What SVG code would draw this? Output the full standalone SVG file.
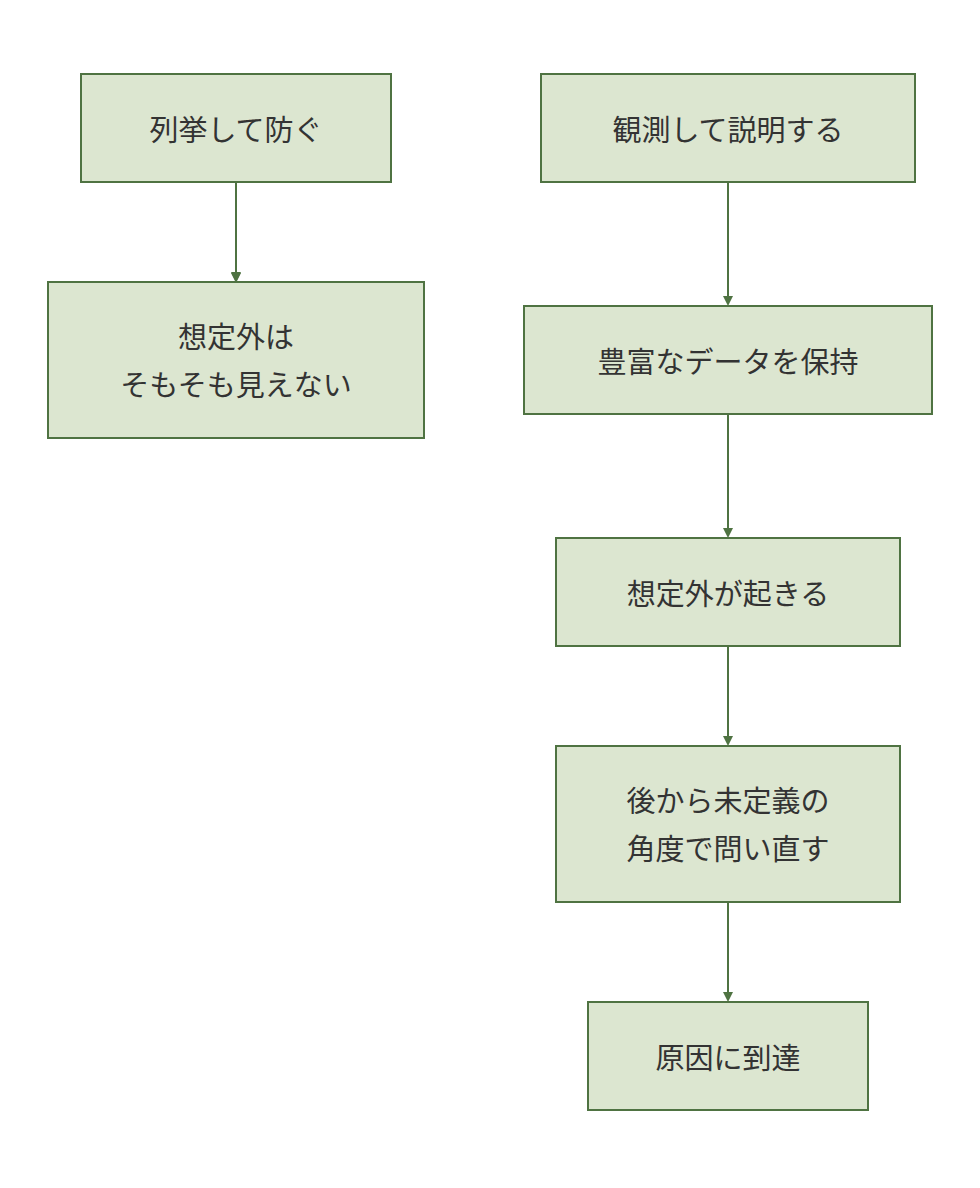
<svg xmlns="http://www.w3.org/2000/svg" width="980" height="1188" viewBox="0 0 980 1188">
<style>
.n{fill:#dce6d0;stroke:#4f7342;stroke-width:2}
.t{font-family:"Noto Sans CJK JP",sans-serif;font-size:29px;fill:#333;text-anchor:middle;dominant-baseline:central}
.e{stroke:#4f7342;stroke-width:2;fill:none}
</style>
<defs><marker id="a" markerWidth="10" markerHeight="10" refX="8" refY="5" orient="auto" markerUnits="userSpaceOnUse" viewBox="0 0 10 10"><path d="M0,0L10,5L0,10z" fill="#4f7342"/></marker></defs>
<rect width="980" height="1188" fill="#fff"/>
<g id="edges">
<line class="e" x1="236" y1="182" x2="236" y2="281" marker-end="url(#a)" transform=""/>
<path class="e" d="M236,182V280" marker-end="url(#a)"/>
<path class="e" d="M728,182V304" marker-end="url(#a)"/>
<path class="e" d="M728,414V536" marker-end="url(#a)"/>
<path class="e" d="M728,646V744" marker-end="url(#a)"/>
<path class="e" d="M728,902V1000" marker-end="url(#a)"/>
</g>
<g id="n1"><rect class="n" x="81" y="74" width="310" height="108"/><text class="t" x="236" y="128">列挙して防ぐ</text></g>
<g id="n2"><rect class="n" x="48" y="282" width="376" height="156"/><text class="t" x="236" y="335">想定外は</text><text class="t" x="236" y="383">そもそも見えない</text></g>
<g id="n3"><rect class="n" x="541" y="74" width="374" height="108"/><text class="t" x="728" y="128">観測して説明する</text></g>
<g id="n4"><rect class="n" x="524" y="306" width="408" height="108"/><text class="t" x="728" y="360">豊富なデータを保持</text></g>
<g id="n5"><rect class="n" x="556" y="538" width="344" height="108"/><text class="t" x="728" y="592">想定外が起きる</text></g>
<g id="n6"><rect class="n" x="556" y="746" width="344" height="156"/><text class="t" x="728" y="799">後から未定義の</text><text class="t" x="728" y="847">角度で問い直す</text></g>
<g id="n7"><rect class="n" x="588" y="1002" width="280" height="108"/><text class="t" x="728" y="1056">原因に到達</text></g>
</svg>
